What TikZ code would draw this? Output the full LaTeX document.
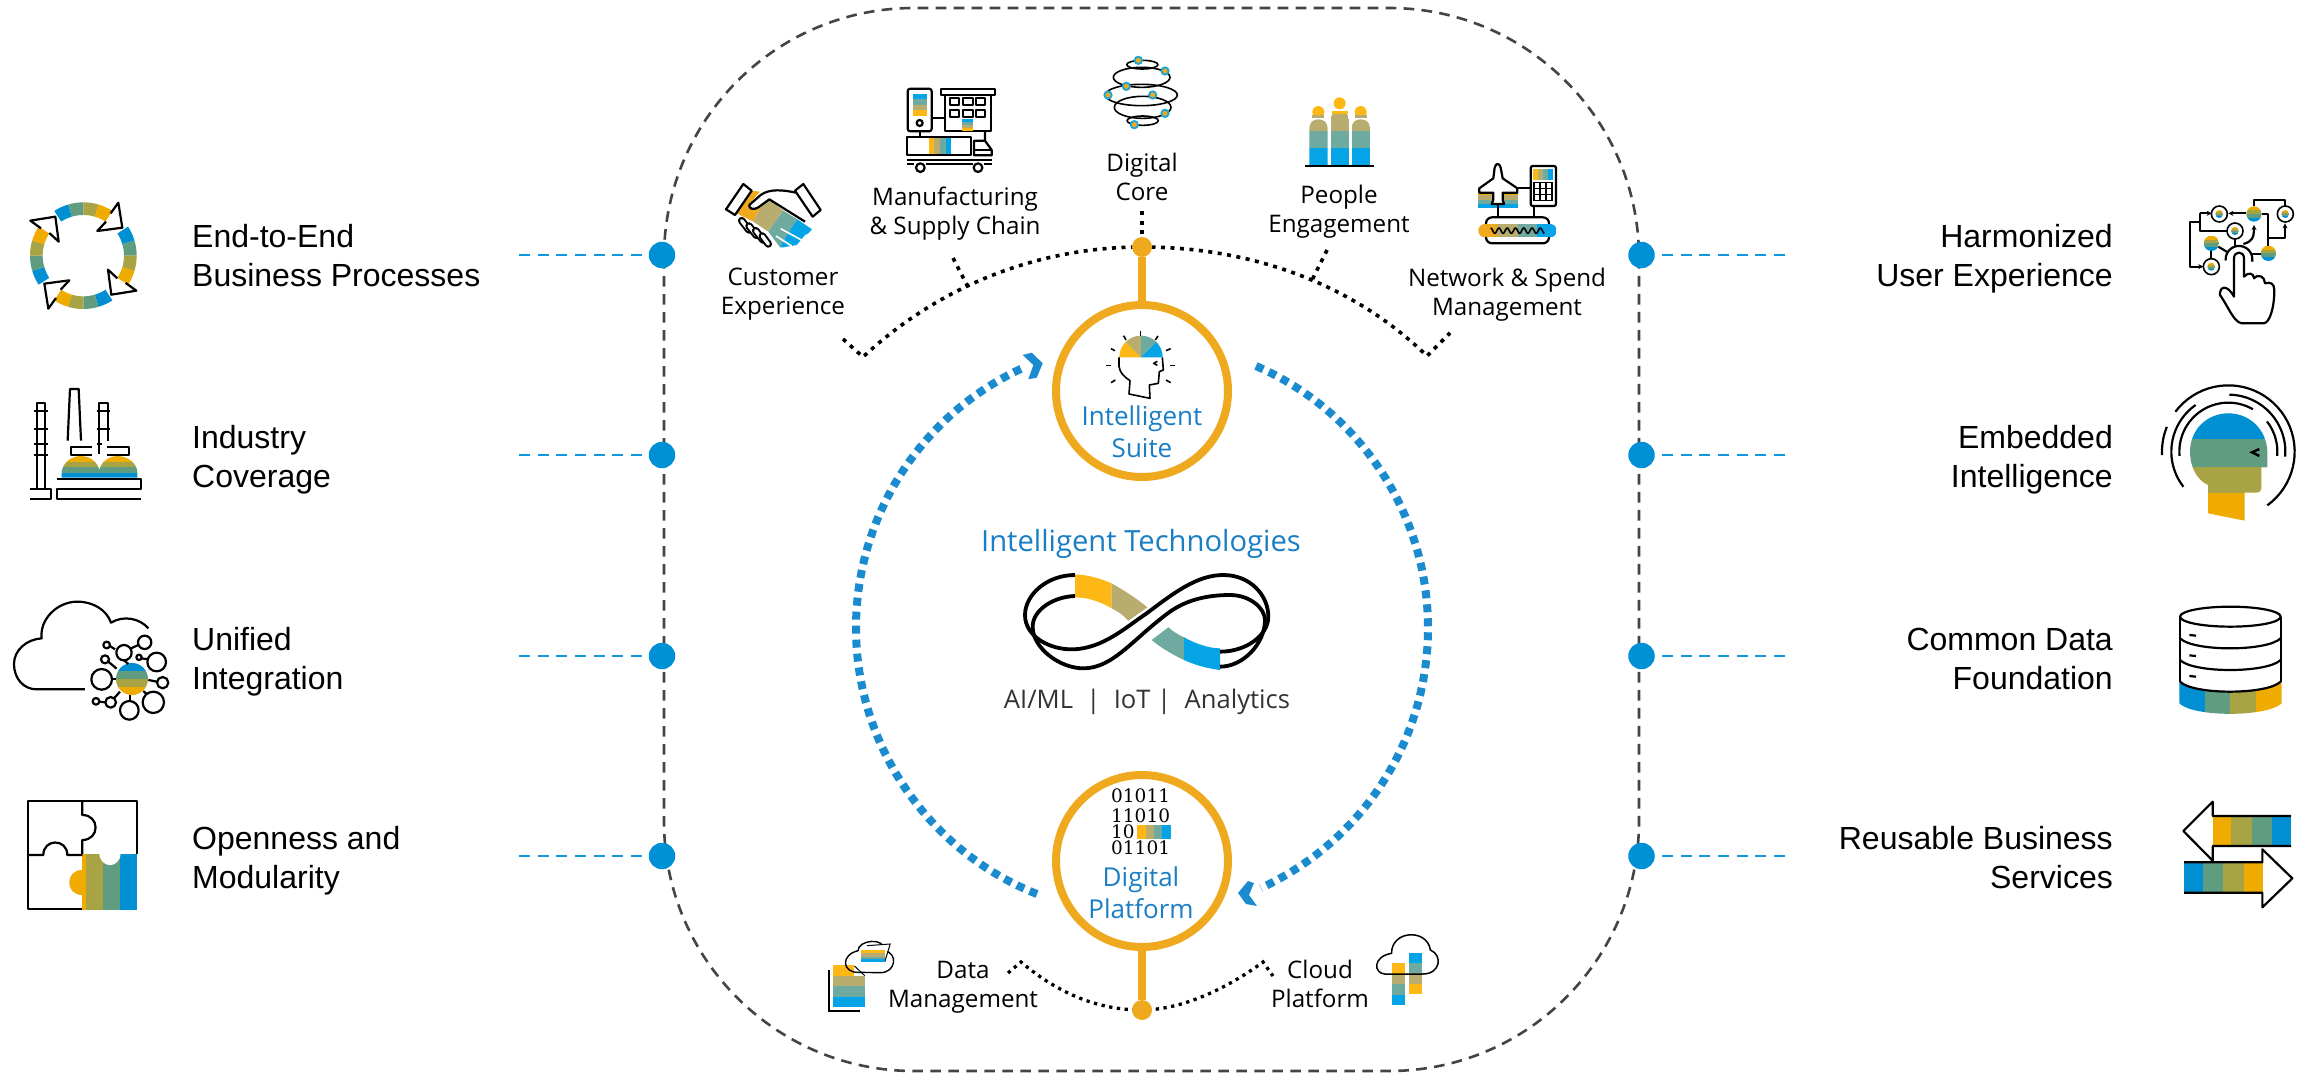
\documentclass[tikz,border=0pt]{standalone}
\usepackage{fontspec}
\usetikzlibrary{arrows.meta,backgrounds}
\setmainfont{Liberation Sans}
\newfontfamily\ctfont{Open Sans}
\newfontfamily\binfont{DejaVu Serif}
\definecolor{ya}{HTML}{F0AB00}\definecolor{tn}{HTML}{A8A344}\definecolor{gr}{HTML}{609C80}\definecolor{bl}{HTML}{008FD3}
\definecolor{yb}{HTML}{FDB815}\definecolor{tb}{HTML}{B8AD6F}\definecolor{gb}{HTML}{6EAAA0}\definecolor{bb}{HTML}{04A4E6}
\definecolor{ringor}{HTML}{EFA91F}\definecolor{blu}{HTML}{1B8BCF}\definecolor{blt}{HTML}{1A7EC4}\definecolor{dotb}{HTML}{0090D6}\definecolor{dsh}{HTML}{444444}\definecolor{blue2}{HTML}{1097DC}
\newcommand{\annseg}[7]{\fill[#7] plot[domain=#5:#6,samples=6] ({#1+#4*cos(\x)},{#2+#4*sin(\x)}) -- plot[domain=#6:#5,samples=6] ({#1+#3*cos(\x)},{#2+#3*sin(\x)}) -- cycle;}
\newcommand{\arcz}[6]{\draw[#6] plot[domain=#4:#5,samples=40] ({#1+#3*cos(\x)},{#2+#3*sin(\x)});}
\newcommand{\bandcirc}[3]{\begin{scope}\clip (#1,#2) circle (#3);
\fill[ya] ({#1-#3},{#2-#3}) rectangle ({#1+#3},{#2-#3*0.5});
\fill[tn] ({#1-#3},{#2-#3*0.5}) rectangle ({#1+#3},{#2});
\fill[gr] ({#1-#3},{#2}) rectangle ({#1+#3},{#2+#3*0.5});
\fill[bl] ({#1-#3},{#2+#3*0.5}) rectangle ({#1+#3},{#2+#3});\end{scope}}
\tikzset{
 ik/.style={line width=2.2pt,black,line join=round},
 ikt/.style={line width=1.6pt,black,line join=round},
 z1/.style={shift={(0,180)},scale=0.33333},
 z2/.style={shift={(0,570)},scale=0.33333},
 z3/.style={shift={(690,0)},scale=0.33333},
 z4/.style={shift={(1150,0)},scale=0.33333},
 z5/.style={shift={(1030,300)},scale=0.33333},
 z6/.style={shift={(960,520)},scale=0.33333},
 z7/.style={shift={(800,780)},xscale=0.44643,yscale=0.33333},
 z8/.style={shift={(2100,180)},scale=0.33333},
 z9/.style={shift={(2100,570)},scale=0.33333},
 lab/.style={font=\fontsize{32}{39}\selectfont,inner sep=0pt,text=black},
 ctx/.style={font=\fontsize{24.2}{29.5}\selectfont\ctfont,inner sep=0pt,align=center,text=black},
 btx/.style={font=\fontsize{26}{32}\selectfont\ctfont,inner sep=0pt,align=center,text=blt},
 sidedot/.style={circle,fill=dotb,inner sep=0pt,minimum size=26.5pt},
 orgdot/.style={circle,fill=ringor,inner sep=0pt,minimum size=20pt},
 ringn/.style={circle,draw=ringor,line width=8pt,inner sep=0pt,minimum size=172pt},
 bluel/.style={draw=blue2,line width=2.5pt,dash pattern=on 11pt off 7.67pt},
 frame/.style={draw=dsh,line width=2.6pt,dash pattern=on 10.7pt off 7.3pt},
 kdots/.style={black,line width=3.6pt,dash pattern=on 4pt off 5.5pt},
 kdotss/.style={black,line width=3.3pt,dash pattern=on 3.3pt off 4.5pt},
 bdots/.style={draw=blu,line width=8pt,dash pattern=on 8pt off 6pt},
 chev/.style={fill=blu},
 stem/.style={draw=ringor,line width=7.5pt},
}
\begin{document}
\begin{tikzpicture}[x=1pt,y=-1pt]
\useasboundingbox (0,0) rectangle (2311,1074);
\begin{pgfonlayer}{background}
\fill[white] (0,0) rectangle (2311,1074);
\end{pgfonlayer}
% frame
\draw[frame,rounded corners=250pt] (664,8) rectangle (1639,1071);
% side dots and dashed connectors
\foreach \n/\y in {1/255,2/455,3/656,4/856}{
 \node[sidedot] (dl\n) at (662,\y) {};
 \coordinate (el\n) at (519,\y);
 \node[sidedot] (dr\n) at (1641.5,\y) {};
 \coordinate (er\n) at (1785,\y);
 \begin{pgfonlayer}{background}
 \draw[bluel] (el\n) -- (dl\n.center);
 \draw[bluel] (er\n) -- (dr\n.center);
 \end{pgfonlayer}
}
% side labels
\node[lab,anchor=west,align=left] (t1) at (192,259.4) {\strut End-to-End\\Business Processes\strut};
\node[lab,anchor=west,align=left] (t2) at (192,460.4) {\strut Industry\\Coverage\strut};
\node[lab,anchor=west,align=left] (t3) at (192,662) {\strut Unified\\Integration\strut};
\node[lab,anchor=west,align=left] (t4) at (192,861) {\strut Openness and\\Modularity\strut};
\node[lab,anchor=east,align=right] (r1) at (2113,259.4) {\strut Harmonized\\User Experience\strut};
\node[lab,anchor=east,align=right] (r2) at (2113,460.4) {\strut Embedded\\Intelligence\strut};
\node[lab,anchor=east,align=right] (r3) at (2113,662) {\strut Common Data\\Foundation\strut};
\node[lab,anchor=east,align=right] (r4) at (2113,861) {\strut Reusable Business\\Services\strut};
% rings
\node[ringn] (suite) at (1142,391) {};
\node[ringn] (platform) at (1142,861) {};
\node[orgdot] (topdot) at (1142,247) {};
\node[orgdot] (botdot) at (1142,1010) {};
% dotted arcs
\coordinate (sa) at (843,339);\coordinate (sb) at (863,357);
\coordinate (sc) at (953,258);\coordinate (sd) at (968,287);
\coordinate (se) at (1142,211);
\coordinate (sf) at (1327,250);\coordinate (sg) at (1312,280);
\coordinate (sh) at (1450,333);\coordinate (si) at (1427,356);
\coordinate (da) at (1008,973);\coordinate (db) at (1021,962);
\coordinate (dc) at (1273,976);\coordinate (dd) at (1263,962);
\begin{pgfonlayer}{background}
\draw[kdots] (sa) -- (sb) .. controls (939,286) and (1038,247) .. (topdot.center);
\draw[kdots] (sc) -- (sd);
\draw[kdots] (se) -- (topdot.center);
\draw[kdots] (topdot.center) .. controls (1248.5,247) and (1351,282) .. (si) -- (sh);
\draw[kdots] (sf) -- (sg);
\draw[kdotss] (da) -- (db) .. controls (1060,995) and (1100,1010) .. (botdot.center) .. controls (1180,1010) and (1225,990) .. (dd) -- (dc);
\end{pgfonlayer}
\draw[stem] (topdot) -- (suite.north);
\draw[stem] (platform.south) -- (botdot);
% blue ring arcs
\coordinate (l1) at (1037,894);\coordinate (l2) at (856,628);\coordinate (l3) at (1025,367);
\coordinate (r1a) at (1256,366);\coordinate (r2a) at (1428,628);\coordinate (r3a) at (1261,888);
\draw[bdots] (l1) .. controls (928,851) and (856,745) .. (l2) .. controls (856,515) and (922,413) .. (l3);
\draw[bdots] (r1a) .. controls (1360,411) and (1428,514) .. (r2a) .. controls (1428,740) and (1363,841) .. (r3a);
\fill[chev] (1022.7,355) -- (1031.7,352.7) -- (1042.7,363.3) -- (1036.7,377.7) -- (1028.3,379.3) -- (1033.3,365) -- cycle;
\fill[chev] (1248,881) -- (1238,893) -- (1246,904) -- (1257,906) -- (1249,895) -- (1254,883) -- cycle;
% centre texts
\node[btx] (su) at (1142,434.6) {\strut Intelligent\\Suite\strut};
\node[btx] (pl) at (1141,895.6) {\strut Digital\\Platform\strut};
\node[font=\fontsize{29.2}{36}\selectfont\ctfont,text=blt,inner sep=0pt,anchor=base] (it) at (1141,551) {Intelligent Technologies};
\node[font=\fontsize{25.6}{30}\selectfont\ctfont,text=black!80,inner sep=0pt,anchor=base] (ai) at (1147,708) {AI/ML\ \ |\ \ IoT |\ \ Analytics};
\node[ctx] (n1) at (783,294) {\strut Customer\\Experience\strut};
\node[ctx] (n2) at (955,214) {\strut Manufacturing\\\& Supply Chain\strut};
\node[ctx] (n3) at (1142,180) {\strut Digital\\Core\strut};
\node[ctx] (n4) at (1339,212) {\strut People\\Engagement\strut};
\node[ctx] (n5) at (1507,295) {\strut Network \& Spend\\Management\strut};
\node[ctx] (n6) at (963,987) {\strut Data\\Management\strut};
\node[ctx] (n7) at (1320,987) {\strut Cloud\\Platform\strut};
% ---------- infinity
\begin{scope}[z6]
\fill[yb] (345,163) .. controls (385,165) and (420,175) .. (455,190) -- (455,265) .. controls (420,245) and (385,232) .. (345,232) -- cycle;
\fill[tb] (455,190) .. controls (490,210) and (530,235) .. (562,262) -- (505,302) .. controls (490,285) and (475,275) .. (455,265) -- cycle;
\fill[gb] (625,322) .. controls (640,335) and (655,345) .. (672,352) -- (672,420) .. controls (640,405) and (605,385) .. (575,360) -- cycle;
\fill[bb] (672,352) .. controls (705,370) and (745,385) .. (780,385) -- (780,450) .. controls (740,445) and (705,435) .. (672,420) -- cycle;
\draw[black,line width=3.8pt] (345,165) .. controls (260,165) and (195,225) .. (195,285) .. controls (195,350) and (270,390) .. (340,388) .. controls (430,385) and (500,320) .. (560,280) .. controls (640,220) and (710,165) .. (790,165) .. controls (870,165) and (925,225) .. (925,290) .. controls (925,345) and (860,395) .. (780,395);
\draw[black,line width=3.8pt] (345,228) .. controls (280,230) and (218,270) .. (218,320) .. controls (218,385) and (300,445) .. (370,445) .. controls (460,445) and (520,355) .. (630,275) .. controls (680,240) and (740,225) .. (810,225) .. controls (870,225) and (915,265) .. (915,300) .. controls (915,370) and (850,440) .. (780,440);
\end{scope}
% ---------- suite head
\begin{scope}[z5]
\fill[yb] (333,172) -- plot[domain=180:225,samples=8] ({333+65*cos(\x)},{172+65*sin(\x)}) -- cycle;
\fill[tb] (333,172) -- plot[domain=225:270,samples=8] ({333+65*cos(\x)},{172+65*sin(\x)}) -- cycle;
\fill[gb] (333,172) -- plot[domain=270:315,samples=8] ({333+65*cos(\x)},{172+65*sin(\x)}) -- cycle;
\fill[bb] (333,172) -- plot[domain=315:360,samples=8] ({333+65*cos(\x)},{172+65*sin(\x)}) -- cycle;
\draw[ikt] (267,172) -- (267,200) .. controls (270,220) and (285,232) .. (300,242) -- (297,282) -- (360,295) -- (358,255) -- (385,250) -- (388,215) -- (400,210) -- (397,172);
\draw[ikt] (382,184) -- (371,190) -- (382,196);
\foreach \a/\b/\c/\d in {332/92/332/108,281/107/288/120,243/146/255/152,228/196/244/196,243/248/256/240,376/120/384/108,408/152/422/146,420/196/436/196,408/240/422/248}
 \draw[ikt] (\a,\b) -- (\c,\d);
\end{scope}
% ---------- binary
\begin{scope}[z7]
\foreach \c/\a/\b in {yb/755/775,tb/775/793,gb/793/810,bb/810/830}
 \fill[\c] (\a,135) rectangle (\b,176);
\node[font=\fontsize{18.5}{16}\selectfont\binfont,inner sep=0pt,align=left] (bin) at (763,132) {\strut 01011\\11010\\10\phantom{011}\\01101\strut};
% data icon
\draw[line width=1.5pt] (65,570) -- (65,693) -- (135,693);
\foreach \c/\a/\b in {tb/587/618,gb/618/650,bb/650/680}
 \fill[\c] (75,\a) rectangle (145,\b);
\fill[yb] (75,555) rectangle (122,587);
\draw[line width=1pt] (122,558) -- (145,587);
\draw[line width=1.4pt] (130,577) .. controls (95,578) and (90,525) .. (130,512) .. controls (130,480) and (190,470) .. (190,512) .. controls (220,520) and (215,578) .. (180,578) -- cycle;
\fill[white] (139,497) -- (200,492) -- (190,545) -- (137,545) -- cycle;
\draw[line width=1pt] (150,497) -- (202,492) -- (190,545);
\foreach \c/\a/\b in {yb/510/520,tb/520/530,gb/530/538,bb/538/547}
 \fill[\c] (137,\a) rectangle (190,\b);
% cloud icon
\foreach \c/\a/\b in {yb/550/582,tb/582/613,gb/613/645,bb/645/675}
 \fill[\c] (1326,\a) rectangle (1355,\b);
\foreach \c/\a/\b in {bb/520/550,gb/550/580,tb/580/612,yb/612/642}
 \fill[\c] (1364,\a) rectangle (1393,\b);
\draw[line width=1.5pt] (1310,582) .. controls (1285,580) and (1282,530) .. (1325,520) .. controls (1325,450) and (1405,445) .. (1412,510) .. controls (1440,525) and (1435,582) .. (1395,582) -- cycle;
\end{scope}
% ---------- End-to-End
\begin{scope}[z1]
\foreach \r in {0,90,180,270}{
\begin{scope}[rotate around={\r:(250,227)}]
\annseg{250}{227}{122}{160}{-123}{-106.5}{bl}
\annseg{250}{227}{122}{160}{-106.5}{-90}{gr}
\annseg{250}{227}{122}{160}{-90}{-73.5}{tn}
\annseg{250}{227}{122}{160}{-73.5}{-57}{ya}
\draw[ik] (332,100) -- (355,68) -- (367,143) -- (292,153) -- (318,125);
\end{scope}}
\end{scope}
% ---------- Industry
\begin{scope}[z1]
\begin{scope}
\clip (185,893) -- (185,875) .. controls (190,845) and (215,830) .. (240,828) .. controls (270,828) and (292,845) .. (298,870) .. controls (304,845) and (326,828) .. (355,828) .. controls (385,830) and (410,850) .. (412,875) -- (412,893) -- cycle;
\foreach \c/\a/\b in {ya/825/847,tn/847/862,gr/862/878,bl/878/894}
 \fill[\c] (180,\a) rectangle (415,\b);
\end{scope}
\draw[ik] (110,925) -- (110,668) -- (135,668) -- (135,925);
\foreach \y in {692,748,792,826} \draw[ik] (102,\y) -- (143,\y);
\draw[ik] (90,928) -- (153,928) -- (153,957) -- (90,957);
\draw[ik] (203,782) -- (210,627) -- (236,627) -- (243,782);
\draw[ik] (297,782) -- (297,668) -- (323,668) -- (323,782);
\foreach \y in {692,748} \draw[ik] (290,\y) -- (330,\y);
\draw[ik] (290,792) -- (305,792); \draw[ik] (298,782) -- (298,822);
\draw[ik] (275,802) -- (212,802) -- (212,825) -- (275,825);
\draw[ik] (322,802) -- (388,802) -- (388,825) -- (322,825);
\draw[ik] (170,897) -- (422,897) -- (422,927) -- (172,927) -- (172,957) -- (422,957);
\end{scope}
% ---------- Unified
\begin{scope}[z2]
\begin{scope}\clip (396,327) circle (48);
\foreach \c/\a/\b in {bl/279/303,gr/303/328,tn/328/352,ya/352/376}
 \fill[\c] (340,\a) rectangle (450,\b);
\end{scope}
\draw[ik] (255,358) -- (110,358) .. controls (70,358) and (42,325) .. (42,282) .. controls (42,240) and (80,208) .. (125,205) .. controls (118,150) and (170,95) .. (232,95) .. controls (280,95) and (320,120) .. (333,158) .. controls (370,135) and (420,145) .. (445,175);
\foreach \a/\b/\r in {305/328/31,372/248/23,434/217/20,470/276/28,488/338/17,460/397/32,388/421/28,332/397/16,288/394/10,315/268/12,320/225/10,417/262/8}
 \draw[ik] (\a,\b) circle (\r);
\foreach \a/\b/\c/\d in {336/328/348/328,372/271/385/282,393/235/415/225,345/238/330/228,350/296/325/275,425/265/445/268,445/330/471/335,430/363/440/372,390/375/390/393,360/365/342/385,316/397/298/395}
 \draw[ik] (\a,\b) -- (\c,\d);
\end{scope}
% ---------- Puzzle
\begin{scope}[z2]
\foreach \c/\a/\b in {ya/245/258,tn/258/310,gr/310/360,bl/360/412}
 \fill[\c] (\a,852) rectangle (\b,1020);
\fill[ya] (245,899) .. controls (195,899) and (195,975) .. (245,975) -- cycle;
\fill[white] (298,850) .. controls (300,897) and (360,897) .. (362,850) -- cycle;
\draw[ik] (247,1017) -- (85,1017) -- (85,692) -- (410,692) -- (410,852);
\draw[ik] (247,692) -- (247,735) .. controls (300,735) and (300,810) .. (247,810) -- (247,852);
\draw[ik] (85,855) -- (130,855) .. controls (130,805) and (202,805) .. (202,855) -- (247,855);
\end{scope}
% ---------- Handshake + Manufacturing + Core
\begin{scope}[z3]
\fill[ringor] (183,572) -- (210,575) -- (178,612) -- (188,628) -- (212,620) -- (190,665) -- (140,640) -- cycle;
\fill[tb] (212,620) -- (238,598) -- (280,632) -- (235,695) -- (190,665) -- cycle;
\fill[gb] (280,632) -- (322,658) -- (300,690) -- (270,742) -- (235,695) -- cycle;
\fill[bb] (322,658) -- (366,688) -- (355,700) -- (345,705) -- (320,735) -- (280,742) -- (270,742) -- (300,690) -- cycle;
\draw[white,line width=1.6pt] (272,686) -- (338,722); \draw[white,line width=1.6pt] (258,708) -- (305,738);
\draw[ik,fill=white] (108,628) -- (160,552) -- (185,572) -- (135,645) -- cycle;
\draw[ik,fill=white] (315,572) -- (340,552) -- (392,630) -- (368,650) -- cycle;
\draw[ik] (318,578) .. controls (280,570) and (240,565) .. (212,585) -- (178,615) .. controls (175,625) and (190,632) .. (205,622) -- (238,598) -- (345,665);
\foreach \a/\b/\c/\d in {155/662/177/690,177/678/199/706,197/692/219/720,217/708/235/732}{
 \draw[black,line width=7.5pt,line cap=round] (\a,\b) -- (\c,\d);
 \draw[white,line width=3.5pt,line cap=round] (\a,\b) -- (\c,\d);}
% manufacturing
\foreach \c/\a/\b in {bb/282/298,gb/298/314,tb/314/330,yb/330/347}
 \fill[\c] (668,\a) rectangle (712,\b);
\draw[ik,rounded corners=2.5pt] (653,266) rectangle (725,394);
\draw[ik] (689,369) circle (9);
\draw[ik] (725,354) -- (765,354); \draw[ik] (689,394) -- (689,408);
\draw[ik] (752,266) rectangle (914,285);
\draw[ik] (765,285) -- (765,394) -- (903,394) -- (903,285);
\foreach \a in {780,820,858}\foreach \b in {295,329}
 \draw[ik] (\a,\b) rectangle ({\a+28},{\b+21});
\foreach \c/\a/\b in {bb/358/366,gb/366/375,tb/375/384,yb/384/392}
 \fill[\c] (817,\a) rectangle (850,\b);
\foreach \c/\a/\b in {yb/717/733,tb/733/750,gb/750/768,bb/768/782}
 \fill[\c] (\a,412) rectangle (\b,464);
\draw[ik] (652,410) rectangle (843,466);
\draw[ik] (885,394) -- (885,422) -- (852,422) -- (852,466) -- (905,466) -- (905,450) -- (885,422);
\draw[ik] (852,450) -- (905,450);
\draw[ik] (650,480) -- (905,480);
\draw[ik] (650,492) -- (672,492); \draw[ik] (708,492) -- (848,492); \draw[ik] (882,492) -- (905,492);
\draw[ik] (691,503) circle (13); \draw[ik] (864,503) circle (13);
% core
\draw[ikt] (1357,194) ellipse (47 and 13);
\draw[ikt] (1355,232) ellipse (85 and 30);
\draw[ikt] (1354,285) ellipse (108 and 32);
\draw[ikt] (1358,322) ellipse (85 and 33);
\draw[ikt] (1358,362) ellipse (47 and 14);
\foreach \a/\b in {1345/181,1309/259,1254/285,1388/285,1333/374,1425/213,1425/340}
 \draw[draw=bb!80!gb,fill=ringor,line width=1.8pt] (\a,\b) circle (11);
\end{scope}
% ---------- People + Network
\begin{scope}[z4]
\foreach \x/\t in {478/358,542/333,605/358}{
\begin{scope}
\clip (\x,497) -- (\x,{\t+28}) .. controls (\x,{\t+8}) and ({\x+12},\t) .. ({\x+27},\t) .. controls ({\x+42},\t) and ({\x+55},{\t+8}) .. ({\x+55},{\t+28}) -- ({\x+55},497) -- cycle;
\foreach \c/\a/\b in {tb/330/393,gb/393/445,bb/445/497}
 \fill[\c] (\x,\a) rectangle ({\x+55},\b);
\end{scope}}
\foreach \a/\b in {569/310,505/336,632/336}
 \fill[yb] (\a,\b) circle (18);
\fill[yb] (545,333) rectangle (595,342);
\fill[tb] (487,345) rectangle (523,354);\fill[tb] (614,345) rectangle (650,354);
\draw[black,line width=1.6pt] (465,498) -- (672,498);
% network
\foreach \c/\a/\b in {ya/575/585,tb/585/600,gb/600/612,bb/612/625}
 \fill[\c] (985,\a) rectangle (1103,\b);
\draw[ik,fill=white] (1030,535) -- (988,565) -- (988,578) -- (1030,578) -- (1030,600) -- (1025,612) -- (1062,612) -- (1058,600) -- (1058,578) -- (1102,578) -- (1102,565) -- (1058,535) -- (1052,503) .. controls (1048,488) and (1038,488) .. (1034,503) -- cycle;
\draw[ik] (1103,565) -- (1142,565);
\draw[ik] (1043,612) -- (1043,652); \draw[ik] (1152,618) -- (1152,652);
\foreach \c/\a/\b in {yb/1148/1165,tb/1165/1180,gb/1180/1195,bb/1195/1210}
 \fill[\c] (\a,507) rectangle (\b,540);
\draw[ik,rounded corners=2pt] (1142,498) rectangle (1218,618);
\foreach \a in {1152,1170,1188,1206} \draw[ikt] (\a,547) -- (\a,602);
\foreach \b in {547,565,583,601} \draw[ikt] (1152,\b) -- (1206,\b);
\draw[ik,rounded corners=6pt] (1008,652) rectangle (1197,730);
\begin{scope}\clip[rounded corners=6.5pt] (985,672) rectangle (1220,712);
\foreach \c/\a/\b in {ringor/985/1042,tb/1042/1103,gb/1103/1162,bb/1162/1220}
 \fill[\c] (\a,672) rectangle (\b,712);
\end{scope}
\draw[ikt] plot[domain=0:161,samples=80] ({1022+\x},{692+8*sin(\x*14.5-90)});
\end{scope}
% ---------- Harmonized
\begin{scope}[z8]
\bandcirc{462}{102}{23}\bandcirc{334}{190}{23}\bandcirc{505}{220}{23}
\foreach \a/\b in {358/102,405/153,334/260,556/102}{
 \draw[ikt] (\a,\b) circle (24);
 \bandcirc{\a}{\b}{12}}
\draw[ik,-{Stealth[length=5pt,width=5pt]}] (300,100) -- (335,100);
\draw[ik] (300,100) -- (300,153) -- (381,153);
\draw[ik,-{Stealth[length=5pt,width=5pt]}] (300,127) -- (270,127) -- (270,260) -- (310,260);
\draw[ik,-{Stealth[length=5pt,width=5pt]}] (439,100) -- (385,100);
\draw[ik] (462,79) -- (462,60) -- (555,60) -- (555,78);
\draw[ik] (485,102) -- (505,102) -- (505,197);
\draw[ik,-{Stealth[length=5pt,width=5pt]}] (505,175) -- (555,175) -- (555,130);
\draw[ik] (334,213) -- (334,236); \draw[ik] (355,200) -- (380,215); \draw[ik] (405,177) -- (405,200);
\draw[ik,-{Stealth[length=5pt,width=5pt]}] (430,192) .. controls (455,185) and (462,175) .. (462,135);
\draw[ik] (455,222) -- (482,222);
\arcz{417}{238}{40}{175}{370}{ik}
\draw[ik,fill=white] (402,350) -- (402,235) .. controls (402,212) and (432,212) .. (432,235) -- (432,290) .. controls (445,275) and (462,280) .. (462,295) .. controls (475,280) and (495,290) .. (495,310) .. controls (510,305) and (523,310) .. (523,330) .. controls (523,380) and (510,430) .. (490,430) -- (425,430) .. controls (400,425) and (385,380) .. (360,345) .. controls (358,320) and (380,310) .. (402,350) -- cycle;
\end{scope}
% ---------- Embedded
\begin{scope}[z8]
\begin{scope}\clip (270,815) .. controls (270,750) and (320,700) .. (385,700) .. controls (450,700) and (500,750) .. (502,815) -- (502,862) -- (484,862) -- (484,925) .. controls (484,933) and (478,938) .. (470,938) -- (434,938) -- (434,1022) -- (324,1000) -- (324,915) .. controls (290,900) and (270,860) .. (270,815) -- cycle;
\foreach \c/\a/\b in {bl/695/778,gr/778/862,tn/862/938,ya/938/1025}
 \fill[\c] (260,\a) rectangle (510,\b);
\end{scope}
\draw[black,line width=2.4pt] (478,807) -- (456,817) -- (478,828);
\arcz{385}{815}{147}{175}{300}{ik}
\arcz{385}{815}{147}{322}{365}{ik}
\arcz{385}{815}{171}{142}{235}{ik}
\arcz{385}{815}{171}{271}{365}{ik}
\arcz{385}{815}{199}{177}{202}{ik}
\arcz{385}{815}{199}{217}{414}{ik}
\end{scope}
% ---------- Database
\begin{scope}[z9]
\begin{scope}\clip (238,337) .. controls (280,375) and (500,375) .. (545,337) -- (545,400) .. controls (500,442) and (280,442) .. (238,400) -- cycle;
\foreach \c/\a/\b in {bl/238/315,gr/315/391,tn/391/468,ya/468/545}
 \fill[\c] (\a,330) rectangle (\b,435);
\end{scope}
\draw[ik] (391,140) ellipse (151 and 30);
\draw[ik] (240,140) -- (240,335); \draw[ik] (542,140) -- (542,335);
\foreach \y in {205,270,335}
 \draw[ik] (240,\y) .. controls (280,{\y+40}) and (500,{\y+40}) .. (542,\y);
\foreach \y in {195,256,318} \draw[ik] (268,\y) -- (288,{\y+2});
\end{scope}
% ---------- Arrows
\begin{scope}[z9]
\foreach \c/\a/\b in {ya/338/394,tn/394/455,gr/455/516,bl/516/573}
 \fill[\c] (\a,740) rectangle (\b,826);
\draw[ik] (573,738) -- (338,738) -- (338,695) -- (250,783) -- (338,872) -- (338,828) -- (573,828);
\foreach \c/\a/\b in {bl/252/310,gr/310/370,tn/370/431,ya/431/489}
 \fill[\c] (\a,879) rectangle (\b,966);
\draw[ik] (252,877) -- (487,877) -- (487,838) -- (577,925) -- (487,1012) -- (487,968) -- (252,968);
\end{scope}
\end{tikzpicture}
\end{document}
